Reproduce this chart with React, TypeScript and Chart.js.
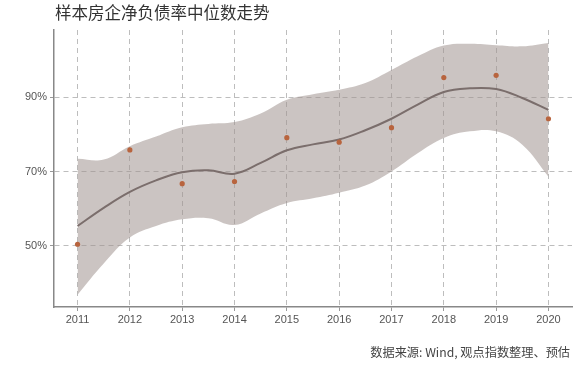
import React, { useEffect, useRef } from "react";
import { Chart, registerables } from "chart.js";

Chart.register(...registerables);

const years = [2011, 2012, 2013, 2014, 2015, 2016, 2017, 2018, 2019, 2020];
const observed = [50.4, 75.8, 66.7, 67.3, 79.1, 77.9, 81.8, 95.3, 95.9, 84.2];

const smoothX = [2011, 2011.5, 2012, 2012.5, 2013, 2013.5, 2014, 2014.5, 2015, 2015.5, 2016, 2016.5, 2017, 2017.5, 2018, 2018.5, 2019, 2019.5, 2020];
const trend = [55.3, 60.2, 64.5, 67.6, 69.8, 70.3, 69.4, 72.3, 75.7, 77.3, 78.6, 81.1, 84.2, 88.0, 91.4, 92.4, 92.2, 89.8, 86.6];
const bandUpper = [73.4, 73.2, 76.8, 79.4, 81.9, 82.8, 83.3, 85.6, 89.3, 90.8, 92.0, 93.8, 97.3, 101.0, 103.9, 104.4, 104.0, 103.7, 104.6];
const bandLower = [36.8, 45.2, 52.2, 55.3, 57.1, 57.4, 55.6, 58.7, 61.5, 62.8, 64.3, 66.2, 70.0, 74.9, 79.0, 80.8, 80.8, 77.2, 68.6];

const yTicks = [50, 70, 90];

const titleText = "样本房企净负债率中位数走势";
const sourceText = "数据来源: Wind, 观点指数整理、预估";

const textPlugin = {
  id: "texts",
  afterDraw(chart: any) {
    const ctx = chart.ctx;
    const area = chart.chartArea;
    ctx.save();
    ctx.fillStyle = "#333333";
    ctx.font = "16.5px 'Noto Sans CJK SC'";
    ctx.textAlign = "left";
    ctx.textBaseline = "middle";
    ctx.fillText(titleText, area.left + 1, 13);
    ctx.fillStyle = "#444444";
    ctx.font = "12.2px 'Noto Sans CJK SC'";
    ctx.textAlign = "right";
    ctx.fillText(sourceText, 570, 352);
    ctx.restore();
  },
};

export default function App() {
  const ref = useRef<HTMLCanvasElement>(null);
  useEffect(() => {
    document.body.style.margin = "0";
    const xy = (xs: number[], ys: number[]) => xs.map((x, i) => ({ x, y: ys[i] }));
    const chart = new Chart(ref.current!, {
      type: "line",
      data: {
        datasets: [
          {
            data: xy(smoothX, bandUpper),
            borderWidth: 0,
            pointRadius: 0,
            backgroundColor: "rgba(160,147,144,0.55)",
            fill: "+1",
            tension: 0.4,
            order: 4,
          },
          {
            data: xy(smoothX, bandLower),
            borderWidth: 0,
            pointRadius: 0,
            fill: false,
            tension: 0.4,
            order: 3,
          },
          {
            data: xy(smoothX, trend),
            borderColor: "#7b6e6c",
            borderWidth: 2,
            pointRadius: 0,
            fill: false,
            tension: 0.4,
            order: 2,
          },
          {
            data: xy(years, observed),
            showLine: false,
            pointRadius: 2.6,
            pointBorderWidth: 0,
            pointBackgroundColor: "#b8643e",
            fill: false,
            order: 1,
          },
        ],
      },
      options: {
        animation: false,
        responsive: false,
        maintainAspectRatio: false,
        layout: { padding: { top: 30, right: 8, left: 0, bottom: 0 } },
        plugins: { legend: { display: false }, tooltip: { enabled: false }, title: { display: false } },
        scales: {
          x: {
            type: "linear",
            min: 2010.55,
            max: 2020.45,
            afterBuildTicks: (s: any) => {
              s.ticks = years.map((v) => ({ value: v }));
            },
            afterFit: (s: any) => {
              s.height = 60;
            },
            ticks: {
              color: "#555555",
              font: { family: "'Liberation Sans'", size: 11 },
              padding: 2,
              callback: (v: any) => String(v),
              maxRotation: 0,
              autoSkip: false,
            },
            grid: {
              color: "#bdbdbd",
              tickLength: 4,
              tickBorderDash: [],
              tickColor: "#999999",
              lineWidth: 1,
            },
            border: { display: true, color: "#888888", width: 1.5, dash: [5, 4] },
          },
          y: {
            min: 33.5,
            max: 108.1,
            afterBuildTicks: (s: any) => {
              s.ticks = yTicks.map((v) => ({ value: v }));
            },
            afterFit: (s: any) => {
              s.width = 54;
            },
            ticks: {
              color: "#555555",
              font: { family: "'Liberation Sans'", size: 11 },
              padding: 3,
              callback: (v: any) => v + "%",
            },
            grid: {
              color: "#bdbdbd",
              tickLength: 4,
              tickColor: "#999999",
              lineWidth: 1,
            },
            border: { display: true, color: "#888888", width: 1.5, dash: [5, 4] },
          },
        },
      } as any,
      plugins: [textPlugin],
    });
    return () => chart.destroy();
  }, []);
  return (
    <div style={{ width: 580, height: 367 }}>
      <canvas ref={ref} width={580} height={367} style={{ display: "block" }} />
    </div>
  );
}
